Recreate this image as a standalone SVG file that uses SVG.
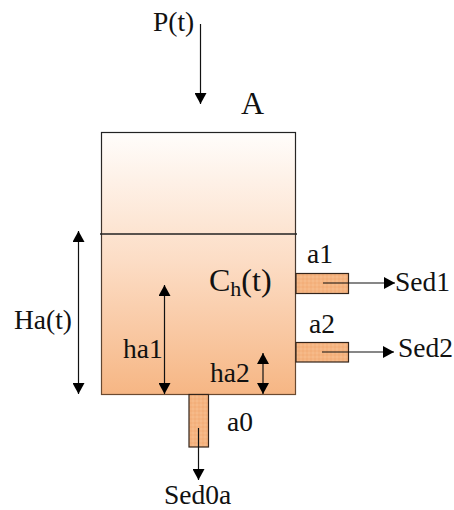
<svg xmlns="http://www.w3.org/2000/svg" width="454" height="510" viewBox="0 0 454 510">
<style>
text{font-family:"Liberation Serif","Times New Roman",serif;font-size:27.500px;fill:#111}
.c{stroke:#111;stroke-width:1.2;fill:none}
.t{fill:url(#dots);stroke:#33241a;stroke-width:1.2}
</style>
<defs>
<linearGradient id="g" x1="0" y1="0" x2="0" y2="1"><stop offset="0" stop-color="#fffdfb"/><stop offset="0.5" stop-color="#fcdcc4"/><stop offset="1" stop-color="#f6b684"/></linearGradient>
<linearGradient id="s" x1="0" y1="0" x2="0" y2="1"><stop offset="0" stop-color="#222"/><stop offset="0.5" stop-color="#4a3a30"/><stop offset="1" stop-color="#6b4a30"/></linearGradient>
<pattern id="dots" patternUnits="userSpaceOnUse" width="4" height="4"><rect width="4" height="4" fill="#f5b481"/><circle cx="1" cy="1" r="0.800" fill="#f8c294"/><circle cx="3" cy="3" r="0.800" fill="#f2aa70"/></pattern>
<marker id="ah" markerUnits="userSpaceOnUse" markerWidth="12" markerHeight="12" refX="11" refY="6" orient="auto-start-reverse"><path d="M0,0L11,6L0,12Z" fill="#000"/></marker>
</defs>
<g id="tank"><rect x="101.500" y="132.500" width="194" height="262" fill="url(#g)" stroke="url(#s)" stroke-width="1.200"/>
<line x1="100" y1="234" x2="297" y2="234" stroke="#222" stroke-width="1.400"/></g>
<g id="pipe-a1"><rect class="t" x="296" y="273.500" width="52.500" height="20"/></g>
<g id="pipe-a2"><rect class="t" x="296" y="342.500" width="52.500" height="19.500"/></g>
<g id="pipe-a0"><rect class="t" x="189" y="394.500" width="19.500" height="52.500"/></g>
<g id="connectors">
<line class="c" x1="200.500" y1="24" x2="200.500" y2="104" marker-end="url(#ah)"/>
<line class="c" x1="78.500" y1="231" x2="78.500" y2="394" marker-start="url(#ah)" marker-end="url(#ah)"/>
<line class="c" x1="164.500" y1="285" x2="164.500" y2="394" marker-start="url(#ah)" marker-end="url(#ah)"/>
<line class="c" x1="263" y1="353" x2="263" y2="394" marker-start="url(#ah)" marker-end="url(#ah)"/>
<line class="c" x1="323" y1="283" x2="395" y2="283" marker-end="url(#ah)"/>
<line class="c" x1="322" y1="352" x2="394" y2="352" marker-end="url(#ah)"/>
<line class="c" x1="198.500" y1="428" x2="198.500" y2="480" marker-end="url(#ah)"/>
</g>
<g id="labels">
<text x="153" y="31">P(t)</text>
<text x="241" y="114" style="font-size:32px">A</text>
<text x="209" y="291" style="font-size:32px">C<tspan dy="5" style="font-size:22px">h</tspan><tspan dy="-5">(t)</tspan></text>
<text x="14" y="329">Ha(t)</text>
<text x="123" y="358">ha1</text>
<text x="210" y="382">ha2</text>
<text x="307" y="263">a1</text>
<text x="309" y="333">a2</text>
<text x="227" y="431">a0</text>
<text x="395" y="291">Sed1</text>
<text x="398" y="357">Sed2</text>
<text x="164" y="504">Sed0a</text>
</g>
</svg>
